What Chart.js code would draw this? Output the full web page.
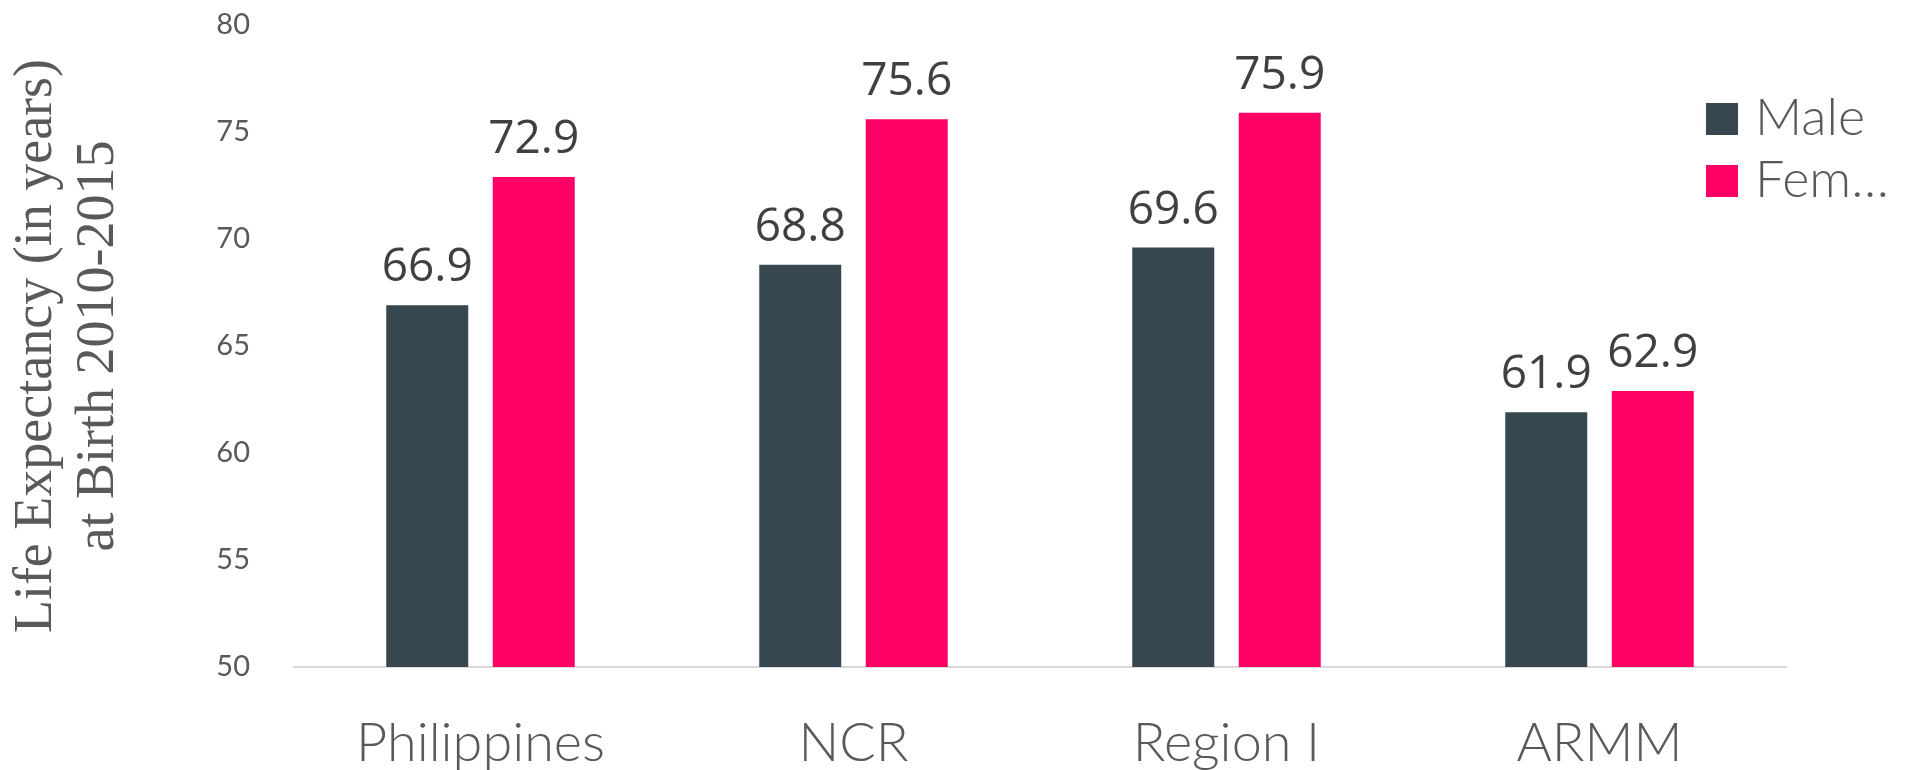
<!DOCTYPE html>
<html>
<head>
<meta charset="utf-8">
<title>Life Expectancy at Birth 2010-2015</title>
<script src="https://cdn.jsdelivr.net/npm/chart.js@4.4.1/dist/chart.umd.min.js"></script>
<style>
    html, body { margin: 0; padding: 0; background: #ffffff; }
    #wrap { width: 1918px; height: 770px; position: relative; }
</style>
</head>
<body>
<div id="wrap"><canvas id="chart"></canvas></div>
<script>
// данные с картинки
const categories = ['Philippines', 'NCR', 'Region I', 'ARMM'];
const seriesNames = ['Male', 'Female'];
const maleValues = [66.9, 68.8, 69.6, 61.9];
const femaleValues = [72.9, 75.6, 75.9, 62.9];
const yTicks = [50, 55, 60, 65, 70, 75, 80];
const yTitle = ['Life Expectancy (in years)', 'at Birth 2010-2015'];

const colorMale = '#37474F';
const colorFemale = '#FF0066';
const textGray = '#595959';

// подписи значений над столбцами
const valueLabels = {
    id: 'valueLabels',
    afterDatasetsDraw(chart) {
        const ctx = chart.ctx;
        ctx.save();
        ctx.font = '46px "Open Sans"';
        ctx.fillStyle = '#404040';
        ctx.textAlign = 'center';
        ctx.textBaseline = 'alphabetic';
        chart.data.datasets.forEach((ds, i) => {
            chart.getDatasetMeta(i).data.forEach((bar, j) => {
                ctx.fillText(Number(ds.data[j]).toFixed(1), bar.x, bar.y - 24);
            });
        });
        ctx.restore();
    }
};

function fitText(ctx, text, maxWidth) {
    if (ctx.measureText(text).width <= maxWidth) return text;
    let t = text;
    while (t.length > 1 && ctx.measureText(t + '\u2026').width > maxWidth) {
        t = t.slice(0, -1);
    }
    return t + '\u2026';
}

// легенда справа сверху, поверх области графика
const sideLegend = {
    id: 'sideLegend',
    afterDraw(chart) {
        const { ctx, chartArea } = chart;
        const size = 32;
        const left = chartArea.right - 80;
        const textX = left + 49;
        let base = chartArea.top + 110;
        ctx.save();
        ctx.font = '300 52px Lato';
        ctx.textAlign = 'left';
        ctx.textBaseline = 'alphabetic';
        chart.data.datasets.forEach(ds => {
            ctx.fillStyle = ds.backgroundColor;
            ctx.fillRect(left, base - size, size, size);
            ctx.fillStyle = textGray;
            ctx.fillText(fitText(ctx, ds.label, chart.width - textX - 20), textX, base);
            base += 62;
        });
        ctx.restore();
    }
};

new Chart(document.getElementById('chart'), {
    type: 'bar',
    data: {
        labels: categories,
        datasets: [
            { label: seriesNames[0], data: maleValues, backgroundColor: colorMale },
            { label: seriesNames[1], data: femaleValues, backgroundColor: colorFemale }
        ]
    },
    options: {
        responsive: true,
        maintainAspectRatio: false,
        animation: false,
        events: [],
        categoryPercentage: 0.571,
        barPercentage: 0.77,
        layout: { padding: { top: 25, right: 132, bottom: 0, left: 0 } },
        plugins: {
            legend: { display: false },
            tooltip: { enabled: false }
        },
        scales: {
            x: {
                grid: { display: false },
                border: { display: true, color: '#D9D9D9', width: 2 },
                ticks: {
                    color: textGray,
                    padding: 42,
                    font: { family: 'Lato', size: 54, weight: '300', lineHeight: 1 }
                },
                afterFit(scale) { scale.height = 103; }
            },
            y: {
                min: yTicks[0],
                max: yTicks[yTicks.length - 1],
                grid: { display: false },
                border: { display: false },
                ticks: {
                    stepSize: 5,
                    color: textGray,
                    padding: 36,
                    font: { family: 'Lato', size: 29 }
                },
                title: {
                    display: true,
                    text: yTitle,
                    color: textGray,
                    padding: { top: 6, bottom: 0 },
                    font: { family: '"Liberation Serif"', size: 54, lineHeight: 1.15 }
                },
                afterFit(scale) {
                    scale.width = 294;
                    scale.paddingTop = 0;
                    scale.paddingBottom = 0;
                }
            }
        }
    },
    plugins: [valueLabels, sideLegend]
});
</script>
</body>
</html>
